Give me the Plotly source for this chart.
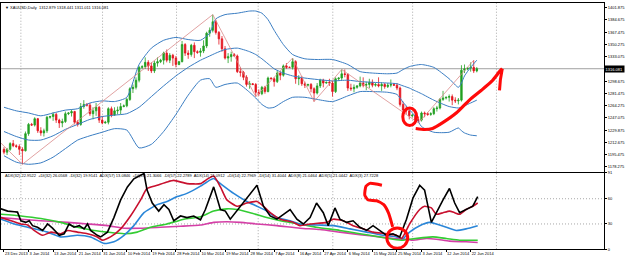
import plotly.graph_objects as go

# ---------------- data ----------------
open_ = [1203,1199,1203,1211,1208,1207,1203,1201,1225,1238,1237,1246,1229,1226,1229,1248,1249,1252,1244,1240,
         1242,1253,1254,1256,1241,1238,1263,1266,1265,1253,1257,1262,1244,1240,1241,1260,1251,1257,1258,1263,
         1264,1273,1288,1290,1300,1318,1319,1325,1320,1313,1324,1326,1328,1338,1328,1335,1331,1322,1326,1350,
         1338,1336,1349,1340,1339,1341,1348,1366,1370,1382,1367,1358,1344,1331,1333,1336,1334,1312,1311,1304,
         1294,1295,1294,1283,1281,1290,1284,1303,1302,1298,1310,1307,1320,1318,1318,1326,1302,1303,1295,1293,
         1294,1288,1282,1292,1300,1296,1297,1296,1284,1302,1303,1309,1308,1289,1288,1290,1292,1296,1293,1294,
         1297,1293,1294,1292,1294,1291,1293,1294,1293,1289,1266,1258,1257,1250,1251,1244,1244,1254,1253,1252,
         1253,1260,1261,1273,1275,1276,1277,1272,1271,1272,1314,1316,1317,1318,1312.879]
high = [1206,1205,1213,1216,1210,1210,1206,1228,1240,1240,1248,1247,1234,1232,1250,1250,1255,1254,1246,1246,
        1256,1255,1259,1257,1244,1268,1272,1268,1268,1262,1268,1264,1250,1243,1262,1263,1262,1263,1268,1266,
        1275,1290,1294,1304,1320,1321,1332,1328,1325,1327,1332,1330,1340,1343,1338,1337,1334,1327,1355,1352,
        1342,1351,1353,1342,1345,1356,1368,1374,1392,1385,1369,1362,1348,1338,1340,1338,1336,1318,1313,1307,
        1299,1296,1296,1287,1292,1292,1305,1304,1304,1313,1312,1322,1324,1319,1331,1328,1307,1306,1298,1295,
        1296,1290,1296,1302,1302,1298,1302,1299,1304,1304,1315,1315,1310,1295,1294,1293,1305,1304,1298,1302,
        1301,1296,1304,1297,1296,1296,1301,1296,1296,1291,1270,1264,1258,1252,1253,1249,1256,1256,1255,1255,
        1262,1264,1275,1285,1277,1280,1280,1276,1275,1321,1322,1318,1325,1328,1318.441]
low = [1196,1195,1201,1206,1205,1195,1182,1200,1222,1236,1235,1226,1222,1221,1226,1246,1243,1240,1233,1234,
       1240,1251,1249,1238,1235,1236,1260,1263,1250,1245,1250,1240,1238,1239,1238,1248,1250,1252,1252,1262,
       1262,1271,1282,1287,1297,1316,1316,1313,1310,1310,1319,1324,1322,1325,1324,1320,1318,1321,1325,1334,
       1330,1333,1331,1337,1333,1338,1345,1361,1367,1364,1350,1340,1329,1324,1326,1333,1310,1305,1300,1291,
       1288,1293,1277,1278,1279,1281,1283,1301,1291,1296,1300,1305,1316,1317,1315,1295,1293,1292,1289,1291,
       1283,1270,1280,1289,1290,1295,1292,1277,1282,1300,1300,1304,1285,1285,1283,1288,1290,1290,1286,1289,
       1290,1291,1290,1285,1288,1289,1290,1292,1286,1263,1255,1252,1245,1248,1241,1240,1242,1248,1250,1250,
       1251,1256,1259,1271,1273,1270,1265,1268,1266,1270,1310,1314,1312,1310,1311.011]
close = [1199,1203,1211,1208,1207,1203,1201,1225,1238,1237,1246,1229,1226,1229,1248,1249,1252,1244,1240,1242,
         1253,1254,1256,1241,1238,1263,1266,1265,1253,1257,1262,1244,1240,1241,1260,1251,1257,1258,1263,1264,
         1273,1288,1290,1300,1318,1319,1325,1320,1313,1324,1326,1328,1338,1328,1335,1331,1322,1326,1350,1338,
         1336,1349,1340,1339,1341,1348,1366,1370,1382,1367,1358,1344,1331,1333,1336,1334,1312,1311,1304,1294,
         1295,1294,1283,1281,1290,1284,1303,1302,1298,1310,1307,1320,1318,1318,1326,1302,1303,1295,1293,1294,
         1288,1282,1292,1300,1296,1297,1296,1284,1302,1303,1309,1308,1289,1288,1290,1292,1296,1293,1294,1297,
         1293,1294,1292,1294,1291,1293,1294,1293,1289,1266,1258,1257,1250,1251,1244,1244,1254,1253,1252,1253,
         1260,1261,1273,1275,1276,1277,1272,1271,1272,1314,1316,1317,1318,1313,1316.081]

# Bollinger bands (sampled)
bb_bars = [0,4,8,12,16,20,24,28,32,36,40,44,48,52,56,60,64,67,69,72,76,80,82,84,86,88,91,94,98,102,
           107,112,116,120,125,128,130,132,134,136,140,145,148,149,150,152,154]
bb_upper = [1262,1257,1254,1250,1254,1258,1260,1268,1271,1270,1276,1322,1345,1356,1360,1357,1356,1366,1386,1392,
            1394,1397,1397,1394,1385,1370,1350,1336,1330,1329,1329,1322,1312,1310,1309,1310,1315,1319,1321,1322,
            1318,1302,1290,1296,1306,1318,1328]
bb_mid = [1228,1221,1216,1216,1222,1231,1238,1245,1249,1251,1253,1262,1277,1292,1306,1318,1328,1334,1338,1343,
          1345,1340,1336,1330,1323,1316,1310,1306,1303,1301,1299,1300,1298,1297,1296,1295,1292,1289,1285,1281,
          1272,1263,1261,1262,1264,1268,1272]
bb_lower = [1194,1185,1182,1184,1192,1204,1216,1222,1227,1232,1230,1205,1210,1228,1252,1279,1300,1302,1290,1294,
            1296,1283,1275,1266,1261,1262,1270,1276,1276,1273,1270,1278,1284,1284,1283,1280,1269,1259,1249,1235,
            1227,1227,1233,1229,1226,1223,1222]

# ZigZag
zz_bars = [-10, 6, 68, 82, 94, 101, 110, 135, 153]
zz_price = [1250, 1182, 1392, 1277, 1331, 1270, 1315, 1240, 1328]

# Lower indicator window
blk_x = [-1.0,1.2,3.4,4.4,5.5,7.1,8.2,9.3,10.9,12.6,14.2,15.8,18.0,19.6,21.2,22.8,24.5,26.1,27.2,28.2,30.4,31.5,
         33.7,35.8,38.0,40.2,42.3,45.6,46.6,48.3,50.4,52.1,53.7,55.3,57.5,59.6,61.8,64.0,65.6,67.2,68.3,70.5,72.1,
         73.7,77.0,80.2,82.4,84.5,86.7,88.9,91.0,93.2,95.4,97.5,99.7,101.8,104.0,105.6,107.8,109.4,111.6,113.7,
         115.9,118.1,120.2,122.4,124.6,126.7,128.9,131.1,133.2,135.4,137.0,139.2,140.8,143.0,145.1,146.8,148.4,
         150.5,152.7,154.3]
blk_v = [48.0,45.3,44.5,44.1,33.8,31.9,33.8,28.0,26.1,22.3,30.0,25.0,16.5,18.4,30.0,26.1,28.0,24.2,30.0,22.3,16.5,
         14.6,20.3,37.6,58.7,74.1,83.7,90.0,70.3,54.9,45.3,53.0,47.2,33.8,39.5,37.6,39.5,35.0,47.2,62.6,74.1,47.2,
         45.3,35.7,51.1,66.4,76.0,51.1,39.5,35.7,41.5,47.2,35.7,30.0,37.6,54.9,43.4,28.0,49.1,35.7,31.9,33.8,26.1,
         22.3,28.0,22.3,16.5,18.4,14.6,35.7,60.7,76.0,70.3,31.9,43.4,58.7,72.2,54.9,43.4,47.2,51.1,62.6]
red_x = [-1.0,2.3,5.5,7.7,9.8,12.6,15.3,18.5,20.7,23.9,27.2,30.4,32.0,34.7,38.0,41.2,44.5,46.6,49.9,53.1,55.3,59.6,
         64.0,66.1,68.3,70.5,72.6,75.9,79.1,82.4,84.5,86.7,90.0,94.3,96.4,99.7,105.1,107.3,110.5,113.7,117.0,120.2,
         124.6,127.8,129.5,132.1,135.4,137.0,139.2,140.8,143.0,145.1,146.8,148.4,150.5,152.7,154.3]
red_v = [37.6,33.8,30.0,28.8,22.3,16.5,20.3,18.4,22.3,20.3,18.4,14.6,10.7,14.6,24.2,39.5,58.7,72.2,76.0,79.9,81.8,
         78.0,78.0,83.0,87.0,74.1,58.7,51.1,54.9,56.8,51.1,43.4,35.7,31.9,28.0,30.0,31.9,35.7,33.8,28.0,24.2,20.3,
         18.4,16.5,12.7,30.0,47.2,51.1,49.1,41.5,43.4,45.3,43.4,41.5,47.2,51.1,54.9]
blu_x = [-1.0,3.4,7.7,10.9,14.2,18.5,23.9,28.2,32.6,35.8,39.1,42.3,45.6,49.9,53.1,56.4,59.6,64.0,66.1,68.3,70.5,
         74.8,79.1,82.4,85.6,88.9,93.2,96.4,101.8,107.3,112.7,118.1,123.5,127.8,130.0,132.1,135.4,138.6,140.8,
         144.1,147.3,150.5,154.3]
blu_v = [35.7,30.0,26.1,23.4,20.3,14.6,16.5,14.6,6.9,8.8,16.5,28.0,43.4,53.0,56.8,62.6,66.4,75.0,80.0,84.0,78.0,
         66.4,56.8,51.1,45.3,37.6,33.8,30.0,28.8,28.0,24.2,20.3,16.5,14.6,12.7,20.3,28.0,31.9,30.0,26.1,22.3,24.2,28.0]
grn_x = [-1.0,5.5,12.0,18.5,23.9,29.3,33.7,39.1,43.4,47.7,53.1,58.6,64.0,68.3,72.6,75.9,80.2,85.6,90.0,96.4,101.8,
         109.4,115.9,122.4,126.7,130.0,132.1,136.5,139.7,144.1,148.4,154.3]
grn_v = [41.5,39.5,36.5,31.9,26.1,22.3,20.3,18.4,20.3,26.1,30.0,35.7,38.5,45.3,48.0,47.2,43.4,37.6,33.8,30.0,26.1,
         22.3,18.4,14.6,11.9,10.7,11.9,13.8,14.6,12.7,10.7,10.7]
mag_x = [-1.0,5.5,12.0,20.7,27.2,33.7,39.1,44.5,50.9,57.5,64.0,68.3,72.6,77.0,82.4,88.9,96.4,102.9,109.4,115.9,
         122.4,126.7,131.1,133.2,137.6,140.8,145.1,150.5,154.3]
mag_v = [37.6,35.7,33.8,31.9,30.0,28.0,25.0,25.0,26.1,27.3,28.8,31.9,32.6,31.9,30.0,28.0,25.0,23.4,20.3,17.3,14.6,
         12.7,11.9,10.7,12.7,11.9,9.6,8.8,8.0]

# axis labels
date_tick_bars = [0,8,16,24,32,40,48,56,64,72,80,88,96,104,112,120,128,136,144,152]
date_labels = ["23 Dec 2013","3 Jan 2014","13 Jan 2014","21 Jan 2014","31 Jan 2014","10 Feb 2014",
               "19 Feb 2014","28 Feb 2014","10 Mar 2014","19 Mar 2014","28 Mar 2014","7 Apr 2014",
               "16 Apr 2014","27 Apr 2014","6 May 2014","15 May 2014","25 May 2014","3 Jun 2014",
               "12 Jun 2014","22 Jun 2014"]
price_ticks = [1178.275,1195.475,1212.675,1229.875,1247.075,1264.275,1281.475,1298.675,
               1333.075,1350.275,1367.475,1384.675,1401.875]
ind_ticks = [0, 30, 60, 91]
month_grid_bars = [5.5, 32.1, 56.2, 82.8, 107.1, 133.1, 160.4]

# hand-drawn red marks
mark_curve_bar = [134.1,137.0,139.6,142.9,147.4,151.6,155.5,158.8,161.4,162.3]
mark_curve_price = [1232.2,1230.8,1232.2,1240.4,1254.2,1272.1,1285.8,1298.2,1312.0,1316.1]
mark_tick_bar = [162.3,161.7,161.4]
mark_tick_price = [1316.1,1301.0,1285.8]
mark_circle_main = [129.9,134.4,1236.3,1261.1]
c_bar = [123.1,119.2,117.9,117.5,118.5,121.4,123.7,125.3,126.6]
c_val = [76.0,78.3,74.9,64.5,58.8,57.6,53.0,42.6,26.5]
mark_circle_low = [124.7,131.5,1.2,25.3]

# ---------------- figure ----------------
W, H = 625, 261
RIGHT = 605
PXBAR = 3.08
xmin = -3 / PXBAR
xmax = xmin + RIGHT / PXBAR
FONT = "Liberation Sans"
GRID = dict(color="#a8a8a8", width=1, dash="1px,2px")

fig = go.Figure()
bars = list(range(len(close)))
fig.add_trace(go.Candlestick(
    x=bars, open=open_, high=high, low=low, close=close,
    increasing=dict(line=dict(color="#22a022", width=0.8), fillcolor="#22a022"),
    decreasing=dict(line=dict(color="#e3141e", width=0.8), fillcolor="#e3141e"),
    whiskerwidth=0, xaxis="x", yaxis="y", hoverinfo="skip"))

for arr in (bb_upper, bb_mid, bb_lower):
    fig.add_trace(go.Scatter(x=bb_bars, y=arr, mode="lines",
                             line=dict(color="#3a7dc2", width=1, shape="spline", smoothing=0.6),
                             xaxis="x", yaxis="y", hoverinfo="skip"))

fig.add_trace(go.Scatter(x=zz_bars, y=zz_price, mode="lines",
                         line=dict(color="#d98a8a", width=0.8), xaxis="x", yaxis="y", hoverinfo="skip"))

lower_series = [(mag_x, mag_v, "#d43fa6", "spline"), (grn_x, grn_v, "#33cc33", "spline"),
                (blu_x, blu_v, "#2a86d8", "spline"), (red_x, red_v, "#c8102e", "spline"),
                (blk_x, blk_v, "#000000", "linear")]
for xs, vs, col, shp in lower_series:
    fig.add_trace(go.Scatter(x=xs, y=vs, mode="lines",
                             line=dict(color=col, width=1.6, shape=shp, smoothing=0.5),
                             xaxis="x2", yaxis="y2", hoverinfo="skip"))

# red hand-drawn marks
RED = "#ff0a0a"
fig.add_trace(go.Scatter(x=mark_curve_bar, y=mark_curve_price, mode="lines",
                         line=dict(color=RED, width=3.2, shape="spline", smoothing=0.6),
                         xaxis="x", yaxis="y", hoverinfo="skip"))
fig.add_trace(go.Scatter(x=mark_tick_bar, y=mark_tick_price, mode="lines",
                         line=dict(color=RED, width=3), xaxis="x", yaxis="y", hoverinfo="skip"))
fig.add_trace(go.Scatter(x=c_bar, y=c_val, mode="lines",
                         line=dict(color=RED, width=3, shape="spline", smoothing=0.5),
                         xaxis="x2", yaxis="y2", hoverinfo="skip"))

shapes = []
for b in month_grid_bars:
    shapes.append(dict(type="line", xref="x", yref="y domain", x0=b, x1=b, y0=0, y1=1,
                       line=GRID, layer="below"))
    shapes.append(dict(type="line", xref="x2", yref="y2 domain", x0=b, x1=b, y0=0, y1=1,
                       line=GRID, layer="below"))
for v in ind_ticks[1:3]:
    shapes.append(dict(type="line", xref="x2 domain", yref="y2", x0=0, x1=1, y0=v, y1=v,
                       line=GRID, layer="below"))
shapes.append(dict(type="line", xref="x domain", yref="y", x0=0, x1=1, y0=close[-1], y1=close[-1],
                   line=dict(color="#a0a0a0", width=1), layer="below"))
shapes.append(dict(type="circle", xref="x", yref="y",
                   x0=mark_circle_main[0], x1=mark_circle_main[1],
                   y0=mark_circle_main[2], y1=mark_circle_main[3],
                   line=dict(color=RED, width=3)))
shapes.append(dict(type="circle", xref="x2", yref="y2",
                   x0=mark_circle_low[0], x1=mark_circle_low[1],
                   y0=mark_circle_low[2], y1=mark_circle_low[3],
                   line=dict(color=RED, width=3)))

annotations = [
    dict(xref="paper", yref="paper", x=0.004, y=1 - 5 / H, xanchor="left", yanchor="middle",
         text="▼ XAUUSD,Daily  1312.879 1318.441 1311.011 1316.081", showarrow=False,
         font=dict(family=FONT, size=4, color="#000")),
    dict(xref="paper", yref="paper", x=0.003, y=1 - 176 / H, xanchor="left", yanchor="middle",
         text=("ADX(32) 22.9522  +DI(32) 26.0568  -DI(32) 19.9141  ADX(57) 13.0846  +DI(57) 21.3066  "
               "-DI(57) 22.2789  ADX(14) 21.0912  +DI(14) 22.7969  -DI(14) 31.4044  ADX(8) 21.0464  "
               "ADX(5) 21.0442  ADX(3) 27.7228"),
         showarrow=False, font=dict(family=FONT, size=4, color="#000")),
    dict(xref="paper", yref="y", x=RIGHT / W, y=close[-1], xanchor="left", yanchor="middle",
         text="%.3f" % close[-1], showarrow=False, bgcolor="#000", borderpad=0.6,
         font=dict(family=FONT, size=4, color="#fff")),
]

axis_common = dict(showgrid=False, zeroline=False, showline=True, mirror=True,
                   linecolor="#000", linewidth=1)
fig.update_layout(
    width=W, height=H, margin=dict(l=0, r=0, t=0, b=0),
    paper_bgcolor="white", plot_bgcolor="white", showlegend=False,
    xaxis=dict(domain=[0, RIGHT / W], range=[xmin, xmax], showticklabels=False, ticks="",
               rangeslider=dict(visible=False), anchor="y", **axis_common),
    yaxis=dict(domain=[1 - 172 / H, 1], range=[1171.6, 1408.3], side="right", anchor="x",
               tickvals=price_ticks, ticktext=["%.3f" % t for t in price_ticks],
               ticks="outside", ticklen=2, tickcolor="#000",
               tickfont=dict(family=FONT, size=4, color="#000"), **axis_common),
    xaxis2=dict(domain=[0, RIGHT / W], range=[xmin, xmax], anchor="y2",
                tickvals=date_tick_bars, ticktext=date_labels, ticklabelposition="outside right",
                ticks="outside", ticklen=2, tickcolor="#000", tickangle=0,
                tickfont=dict(family=FONT, size=4, color="#000"), **axis_common),
    yaxis2=dict(domain=[1 - 251 / H, 1 - 173 / H], range=[0, 91], side="right", anchor="x2",
                tickvals=ind_ticks, ticktext=[str(t) for t in ind_ticks],
                ticks="outside", ticklen=2, tickcolor="#000",
                tickfont=dict(family=FONT, size=4, color="#000"), **axis_common),
    shapes=shapes, annotations=annotations,
)

fig.write_html("out.html")
